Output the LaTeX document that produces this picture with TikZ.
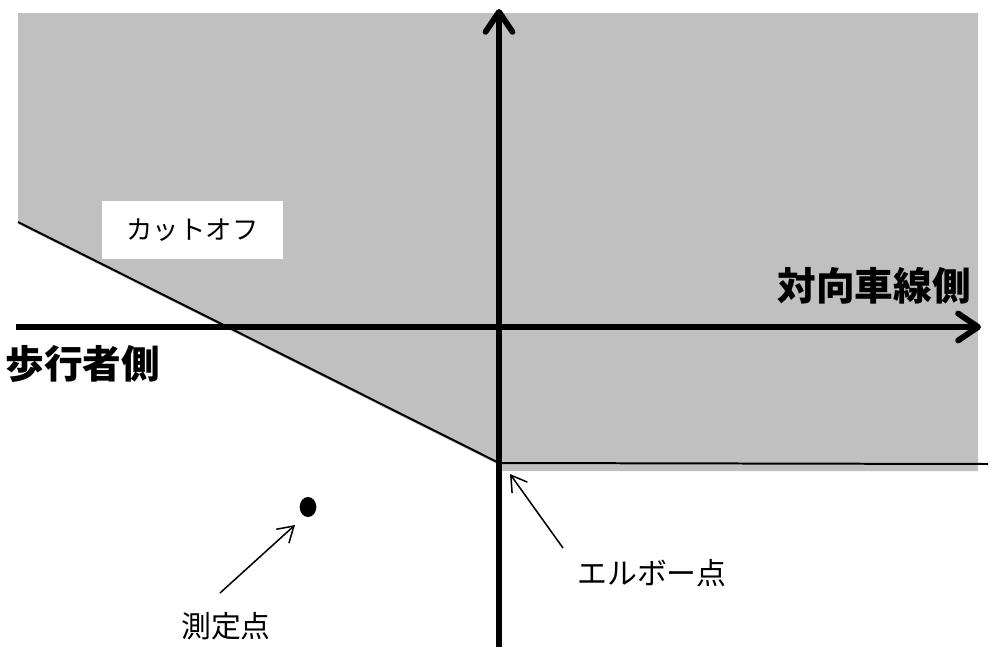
\documentclass[tikz,border=0pt]{standalone}
\usepackage{fontspec}
\newfontfamily\jp{Noto Sans CJK JP}
\usetikzlibrary{arrows.meta}
\usetikzlibrary{shapes.geometric}
\definecolor{cutgray}{RGB}{192,192,192}

\begin{document}
\begin{tikzpicture}[x=0.03cm, y=-0.03cm,
    axis/.style={line width=5pt, -{Straight Barb[length=17pt, width=23pt, line cap=round, line join=round]}},
    pointer/.style={line width=1.3pt, -{Straight Barb[length=13pt, width=16pt]}},
    bigtext/.style={font=\jp\bfseries\fontsize{33}{33}\selectfont, inner sep=0pt},
    smalltext/.style={font=\jp\fontsize{25.5}{25.5}\selectfont, inner sep=0pt}]
                \useasboundingbox (0,0) rectangle (1000,666);

                % Cut-off region
                \fill[cutgray] (18,13) -- (978,13) -- (978,471) -- (499,471) -- (499,465) -- (18,224) -- cycle;
                \node (cutoff) [fill=white, minimum width=5.43cm, minimum height=1.74cm, inner sep=0pt,
                    font=\jp\fontsize{22.5}{22.5}\selectfont] at (192.5,230) {カットオフ};

                % Cut-off line
                \coordinate (cutstart) at (18,222);
                \coordinate (elbow) at (499,463);
                \coordinate (cutend) at (988,464);
                \draw[line width=1.7pt] (cutstart) -- (elbow) -- (cutend);

                % Axes
                \coordinate (xstart) at (16,327);
                \coordinate (xend) at (981,327);
                \coordinate (ystart) at (499,647);
                \coordinate (yend) at (499,9);
                \draw[axis] (xstart) -- (xend);
                \draw[axis] (ystart) -- (yend);
                \node (oncoming) [bigtext] at (874,286) {対向車線側};
                \node (pedestrian) [bigtext] at (83,364) {歩行者側};

                % Measuring point
                \node (point) [ellipse, fill=black, minimum width=0.5cm, minimum height=0.6cm, inner sep=0pt] at (308,507) {};
                \node (pointlabel) [smalltext] at (226,626) {測定点};
                \coordinate (pointtail) at (220,593);
                \coordinate (pointtip) at (295,525);
                \draw[pointer] (pointtail) -- (pointtip);

                % Elbow point
                \node (elbowlabel) [smalltext] at (652,573) {エルボー点};
                \coordinate (elbowtail) at (563,548);
                \coordinate (elbowtip) at (510,474);
                \draw[pointer] (elbowtail) -- (elbowtip);
            \end{tikzpicture}
\end{document}
